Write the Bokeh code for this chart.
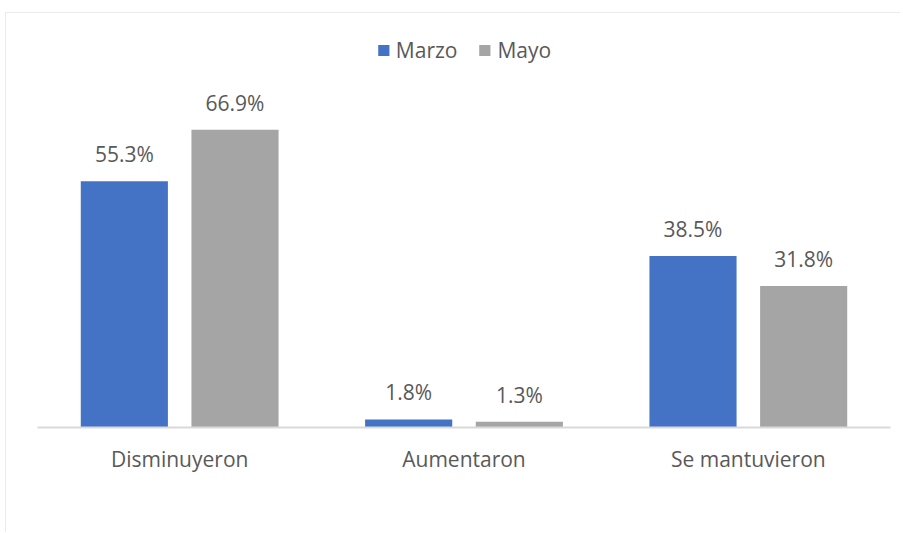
from bokeh.plotting import figure
from bokeh.models import ColumnDataSource, FactorRange, Range1d
from bokeh.transform import dodge
from bokeh.core.properties import value
from bokeh.embed import file_html
from bokeh.resources import INLINE

categories = ["Disminuyeron", "Aumentaron", "Se mantuvieron"]
marzo = [55.3, 1.8, 38.5]
mayo = [66.9, 1.3, 31.8]
series_names = ["Marzo", "Mayo"]
colors = ["#4472C4", "#A5A5A5"]

src = ColumnDataSource(dict(
    cat=categories,
    marzo=marzo,
    mayo=mayo,
    marzo_lbl=[f"{v:.1f}%" for v in marzo],
    mayo_lbl=[f"{v:.1f}%" for v in mayo],
))

FONT = "Open Sans"
TXT = "#595959"

p = figure(
    x_range=FactorRange(*categories, range_padding=0),
    y_range=Range1d(0, 93.0),
    width=895, height=520,
    output_backend="svg", toolbar_location=None,
    min_border_left=31, min_border_right=11,
    min_border_top=0, min_border_bottom=106,
)
p.margin = (12, 0, 0, 5)
p.styles = {"border-top": "1px solid #ebebeb", "border-left": "1px solid #ebebeb"}
p.outline_line_color = None
p.background_fill_color = "white"
p.border_fill_color = "white"

off = 0.1946
bw = 0.3064
p.vbar(x=dodge("cat", -off, range=p.x_range), top="marzo", width=bw, source=src,
       fill_color=colors[0], line_color=None, legend_label=series_names[0])
p.vbar(x=dodge("cat", off, range=p.x_range), top="mayo", width=bw, source=src,
       fill_color=colors[1], line_color=None, legend_label=series_names[1])

for key, o in (("marzo", -off), ("mayo", off)):
    p.text(x=dodge("cat", o, range=p.x_range), y=key, text=f"{key}_lbl", source=src,
           text_align="center", text_baseline="alphabetic", y_offset=-27,
           text_font=value(FONT), text_font_size="21px", text_color=TXT)

p.ygrid.visible = False
p.xgrid.visible = False
p.yaxis.visible = False

ax = p.xaxis[0]
ax.axis_line_color = "#d9d9d9"
ax.axis_line_width = 2
ax.major_tick_line_color = None
ax.minor_tick_line_color = None
ax.major_tick_out = 0
ax.major_label_standoff = 17
ax.major_label_text_font = FONT
ax.major_label_text_font_size = "21px"
ax.major_label_text_color = TXT

lg = p.legend[0]
lg.location = "top_center"
lg.orientation = "horizontal"
lg.border_line_color = None
lg.background_fill_alpha = 0
lg.padding = 0
lg.margin = 23
lg.spacing = 20
lg.glyph_width = 14
lg.glyph_height = 14
lg.label_standoff = 6
lg.label_text_font = FONT
lg.label_text_font_size = "21px"
lg.label_text_color = TXT

open("out.html", "w").write(file_html(p, INLINE))
